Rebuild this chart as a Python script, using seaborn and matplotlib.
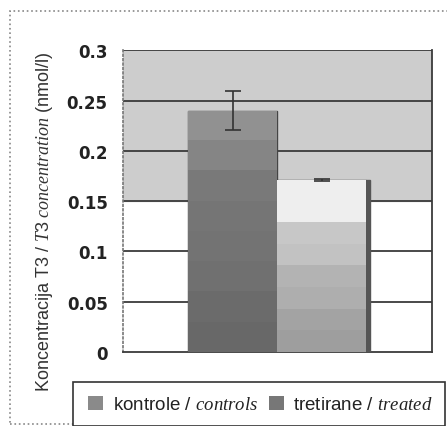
import numpy as np
import pandas as pd
import matplotlib
matplotlib.use("Agg")
import matplotlib.pyplot as plt
import seaborn as sns
from matplotlib.patches import Patch, Rectangle

# data
groups = ["kontrole", "tretirane"]
means = [0.240, 0.171]
errs = [0.019, 0.001]
legend_labels = [r"kontrole / $\mathit{controls}$", r"tretirane / $\mathit{treated}$"]
yticks = [0, 0.05, 0.1, 0.15, 0.2, 0.25, 0.3]
ytick_labels = ["0", "0.05", "0.1", "0.15", "0.2", "0.25", "0.3"]

sns.set_style("white")
plt.rcParams["font.family"] = ["Liberation Sans", "DejaVu Sans"]
plt.rcParams["mathtext.fontset"] = "custom"
plt.rcParams["mathtext.it"] = "Liberation Serif:italic"
plt.rcParams["mathtext.rm"] = "Liberation Sans"

df = pd.DataFrame({"cat": ["T3", "T3"], "group": groups, "mean": means})

fig = plt.figure(figsize=(4.47, 4.27), dpi=100)
ax = fig.add_axes([0.275, 0.173, 0.691, 0.707])

sns.barplot(data=df, x="cat", y="mean", hue="group", palette=["#7a7a7a", "#c8c8c8"],
            width=0.576, edgecolor="#444444", linewidth=1.0, legend=False, ax=ax, zorder=3)

# background band and grid
ax.axhspan(0.15, 0.3, color="#cdcdcd", zorder=0)
for v in yticks[1:]:
    ax.axhline(v, color="#3a3a3a", lw=1.3, zorder=1)

# gradient fill inside bars
grads = [
    np.array([0.57, 0.52, 0.48, 0.46, 0.45, 0.44, 0.42, 0.41]),
    np.array([0.93, 0.93, 0.78, 0.76, 0.70, 0.68, 0.64, 0.62]),
]
bars = [p for p in ax.patches if p.get_height() > 0][:2]
for p, g in zip(bars, grads):
    x0, y0 = p.get_x(), p.get_y()
    w, h = p.get_width(), p.get_height()
    im = ax.imshow(g.reshape(-1, 1), cmap="gray", vmin=0, vmax=1, aspect="auto",
                   extent=[x0, x0 + w, y0, y0 + h], origin="upper", zorder=3.5,
                   interpolation="nearest")
    im.set_clip_path(p)
# shadow on the right of the treated bar
p = bars[1]
ax.add_patch(Rectangle((p.get_x() + p.get_width(), 0), 0.012, p.get_height(),
                       color="#555555", zorder=3.4))

xs = [p.get_x() + p.get_width() / 2 for p in bars]
ax.errorbar(xs, means, yerr=errs, fmt="none", ecolor="#333333", elinewidth=1.2,
            capsize=6, capthick=1.2, zorder=5)

ax.set_xlim(-0.5, 0.5)
ax.set_ylim(0, 0.3)
ax.set_yticks(yticks)
ax.set_yticklabels(ytick_labels, fontweight="bold", fontsize=12, family="DejaVu Sans",
                   color="#222222")
ax.set_xticks([])
ax.set_xlabel("")
ax.set_ylabel(r"Koncentracija T3 / $\mathit{T3\ concentration}$ (nmol/l)", fontsize=13,
              color="#333333")
ax.yaxis.set_label_coords(-0.22, 0.434)
ax.tick_params(axis="y", length=8, color="#888888", direction="out", pad=3)
ax.spines["left"].set_linestyle(":")
ax.spines["left"].set_color("#777777")
ax.spines["left"].set_linewidth(1.2)
ax.spines["top"].set_visible(False)
ax.spines["right"].set_color("#3a3a3a")
ax.spines["right"].set_linewidth(1.3)
ax.spines["bottom"].set_color("#3a3a3a")
ax.spines["bottom"].set_linewidth(1.3)

# outer dotted frame
fig.add_artist(Rectangle((10 / 447, 0.004), 1.0, 1 - 12 / 427 - 0.004, transform=fig.transFigure,
                         fill=False, linestyle=":", edgecolor="#888888", lw=1.2))

# legend box
fig.add_artist(Rectangle((73 / 447, 0.0), (445 - 73) / 447, 44 / 427, transform=fig.transFigure,
                         facecolor="white", edgecolor="#333333", lw=1.2, zorder=10))
handles = [Patch(facecolor="#8a8a8a", edgecolor="none"), Patch(facecolor="#777777", edgecolor="none")]
fig.legend(handles, legend_labels, loc="center", bbox_to_anchor=(0.583, 0.05), ncol=2,
           frameon=False, fontsize=13.5, handlelength=0.8, handleheight=0.8, handletextpad=0.5,
           columnspacing=0.6, labelcolor="#222222").set_zorder(11)

fig.savefig("out.png", dpi=100)
